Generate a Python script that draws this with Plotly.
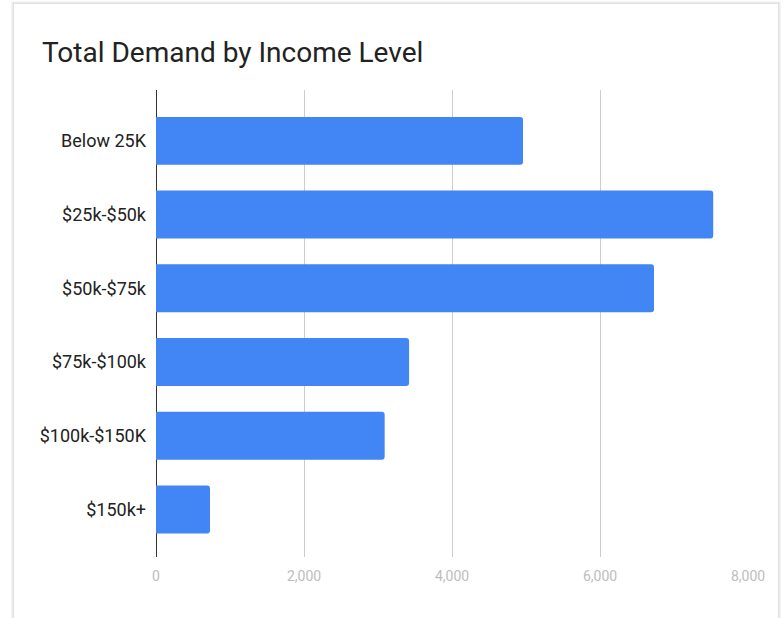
import plotly.graph_objects as go

# Income brackets and total demand per bracket
income_levels = ["Below 25K", "$25k-$50k", "$50k-$75k", "$75k-$100k", "$100k-$150K", "$150k+"]
total_demand = [4960, 7530, 6730, 3420, 3090, 730]
x_tick_values = [0, 2000, 4000, 6000, 8000]
x_tick_labels = ["0", "2,000", "4,000", "6,000", "8,000"]

W, H = 783, 618
ML, MR, MT, MB = 156, 35, 90, 61
PW, PH = W - ML - MR, H - MT - MB


def px_x(p):
    return (p - ML) / PW


def px_y(p):
    return 1 - (p - MT) / PH


fig = go.Figure(
    go.Bar(
        x=total_demand,
        y=income_levels,
        orientation="h",
        marker=dict(color="#4285F4", cornerradius=3, line=dict(width=0)),
        width=0.65,
        hoverinfo="x+y",
    )
)

# card background with a soft shadow on the edges
shapes = []
for i, c in enumerate(["#f6f6f6", "#ececec", "#e0e0e0"]):
    shapes.append(dict(
        type="rect", xref="paper", yref="paper", layer="below",
        x0=px_x(13 - 2 + i), x1=px_x(779 + 2 - i),
        y0=px_y(H + 10), y1=px_y(3 - 2 + i),
        line=dict(width=0), fillcolor=c,
    ))
shapes.append(dict(
    type="rect", xref="paper", yref="paper", layer="below",
    x0=px_x(14), x1=px_x(778), y0=px_y(H + 10), y1=px_y(4),
    line=dict(width=0), fillcolor="#ffffff",
))

fig.update_layout(
    width=W, height=H,
    margin=dict(l=ML, r=MR, t=MT, b=MB, autoexpand=False),
    paper_bgcolor="#ffffff",
    plot_bgcolor="rgba(0,0,0,0)",
    font=dict(family="Roboto, sans-serif", color="#222222"),
    title=dict(
        text="Total Demand by Income Level",
        x=42 / W, xanchor="left", xref="container",
        y=1 - 52 / H, yanchor="middle", yref="container",
        font=dict(size=28, color="#222222", family="Roboto, sans-serif"),
    ),
    shapes=shapes,
    showlegend=False,
    bargap=0.35,
)

fig.update_xaxes(
    range=[0, 8000],
    tickvals=x_tick_values,
    ticktext=x_tick_labels,
    showgrid=True,
    gridcolor="#cccccc",
    gridwidth=1,
    zeroline=True,
    zerolinecolor="#333333",
    zerolinewidth=1,
    showline=False,
    ticks="",
    ticklabelstandoff=9,
    tickfont=dict(size=14, color="#bdbdbd"),
    fixedrange=True,
)

fig.update_yaxes(
    categoryorder="array",
    categoryarray=income_levels,
    range=[5.645, -0.69],
    showgrid=False,
    zeroline=False,
    showline=False,
    ticks="",
    ticklabelstandoff=9,
    tickfont=dict(size=18, color="#222222"),
    fixedrange=True,
)

fig.write_html("out.html")
